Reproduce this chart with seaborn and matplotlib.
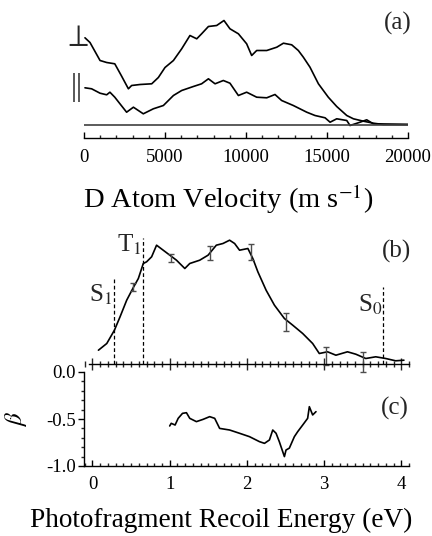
import matplotlib
matplotlib.use("Agg")
import matplotlib.pyplot as plt
import seaborn as sns
import numpy as np
from matplotlib.ticker import MultipleLocator

# (a) D atom velocity distributions, heights in arbitrary units
vel_perp = [60, 370, 990, 1400, 1900, 2300, 2740, 2940, 3460, 4180, 4590, 5000, 5520, 6030,
            6540, 6960, 7260, 7680, 8190, 8640, 9010, 9530, 10040, 10350, 10660, 11280, 11900,
            12310, 12820, 13230, 13540, 13950, 14470, 15080, 15600, 16220, 16630, 17250, 17860,
            18480, 20000]
sig_perp = [86.7, 82, 64, 62, 60.7, 49, 35.7, 39, 40, 40.7, 47, 57, 64, 75.7,
            89, 85.7, 90.7, 98, 99, 104, 95.7, 90.7, 80.7, 69, 74, 74, 77.3,
            81.3, 79.7, 74, 67.3, 57.3, 40.7, 27.3, 18, 9, 5.7, 3.3, 1.3,
            0, 0]
vel_par = [60, 470, 990, 1400, 1600, 1900, 2220, 2630, 3050, 3660, 4280, 4900, 5520, 6030,
           6750, 7260, 7680, 8090, 8600, 9010, 9530, 10040, 10660, 11280, 11790, 12200, 12920,
           13750, 14260, 14880, 15190, 15600, 16220, 16420, 17040, 17450, 17860, 20000]
sig_par = [36.7, 35.7, 31.3, 29.7, 32.3, 27.3, 20.7, 12.3, 17.3, 10.7, 15.7, 19, 29, 34,
           38, 40.7, 45.7, 40.7, 44, 41.3, 29, 32.3, 27.3, 26.7, 30, 24, 19,
           12.3, 9, 6.7, 2.3, 5.7, 4, -1, 2.3, 4.7, 0.7, 0]

# (b) recoil energy distribution
energy_b = [0.077, 0.185, 0.284, 0.357, 0.443, 0.529, 0.594, 0.658, 0.701, 0.766, 0.830, 0.916,
            1.002, 1.088, 1.196, 1.260, 1.389, 1.497, 1.604, 1.690, 1.776, 1.841, 1.905, 2.013,
            2.077, 2.142, 2.249, 2.357, 2.486, 2.594, 2.723, 2.852, 2.938, 3.045, 3.153, 3.303,
            3.411, 3.540, 3.669, 3.798, 3.927, 4.034]
signal_b = [13.3, 20, 33.3, 46.7, 63.3, 76, 85, 100, 101.7, 106.7, 118.3, 113.3,
            108.3, 103.3, 95, 100, 103.3, 108.3, 118.3, 120, 123.3, 120, 113.3, 115,
            105, 91.7, 73.3, 58.3, 45, 38.3, 30, 20, 10, 11.7, 8.3, 11.7,
            9.3, 5, 6.7, 5, 2.7, 3.3]
err_e = [0.52, 1.02, 1.52, 2.05, 2.51, 3.02, 3.50]
err_val = [77, 106, 111, 112, 42, 7.7, 1.5]
err_size = [4, 4, 7, 8, 9, 9, 10]

# state thresholds
state_names = ["S$_1$", "T$_1$", "S$_0$"]
state_e = [0.284, 0.66, 3.76]
state_top = [85, 126, 77]

# (c) anisotropy parameter
energy_c = [1.00, 1.02, 1.07, 1.11, 1.166, 1.217, 1.26, 1.346, 1.432, 1.518, 1.583, 1.647,
            1.776, 1.905, 2.034, 2.163, 2.228, 2.292, 2.335, 2.378, 2.42, 2.486, 2.507, 2.55,
            2.615, 2.658, 2.723, 2.787, 2.809, 2.852, 2.895]
beta = [-0.574, -0.546, -0.564, -0.493, -0.44, -0.433, -0.493, -0.528, -0.504, -0.475, -0.493,
        -0.6, -0.617, -0.652, -0.688, -0.741, -0.759, -0.723, -0.617, -0.652, -0.741, -0.9,
        -0.83, -0.81, -0.688, -0.635, -0.564, -0.493, -0.369, -0.457, -0.422]

sns.set_theme(style="ticks")
plt.rcParams['font.family'] = ['Liberation Serif', 'DejaVu Serif']
plt.rcParams['mathtext.fontset'] = 'stix'

W, H = 432, 536
fig = plt.figure(figsize=(W / 100, H / 100), dpi=100)
fig.patch.set_facecolor("white")

ax_a = fig.add_axes([84 / W, (H - 137.5) / H, 324 / W, 122.5 / H])
ax_b = fig.add_axes([84 / W, (H - 363.5) / H, 325 / W, 135.5 / H])
ax_c = fig.add_axes([84 / W, (H - 466) / H, 325 / W, 94 / H])

for ax in (ax_a, ax_b, ax_c):
    ax.set_facecolor("none")
    for s in ("top", "right", "left"):
        ax.spines[s].set_visible(False)
    ax.spines["bottom"].set_color("black")
    ax.spines["bottom"].set_linewidth(1.0)

# ---- (a)
sns.lineplot(x=vel_perp, y=sig_perp, ax=ax_a, color="black", lw=1.2)
sns.lineplot(x=vel_par, y=sig_par, ax=ax_a, color="black", lw=1.2)
ax_a.axhline(0, color="0.25", lw=1.2)
ax_a.set_xlim(0, 20000)
ax_a.set_ylim(-13, 109.5)
ax_a.set_yticks([])
ax_a.xaxis.set_major_locator(MultipleLocator(5000))
ax_a.xaxis.set_minor_locator(MultipleLocator(1000))
ax_a.tick_params(axis="x", which="major", direction="in", length=4, width=1.0,
                 labelsize=13.5, pad=8, colors="black")
ax_a.tick_params(axis="x", which="minor", direction="in", length=2.5, width=1.0)
ax_a.set_xlabel("D Atom Velocity (m s$^{-1}$)", fontsize=20.5, color="black")
ax_a.xaxis.set_label_coords(0.446, -0.37)
ax_a.text(19380, 101.5, "(a)", fontsize=18, ha="center", va="center")
ax_a.text(-494, 86.5, r"$\perp$", fontsize=22, ha="center", va="center")
ax_a.text(-432, 37.5, "||", fontsize=22, ha="center", va="center")

# ---- (b)
sns.lineplot(x=energy_b, y=signal_b, ax=ax_b, color="black", lw=1.2)
ax_b.errorbar(err_e, err_val, yerr=err_size, fmt="none", ecolor="0.3",
              elinewidth=1.0, capsize=2.5, clip_on=False)
ax_b.vlines(state_e, 0, state_top, colors="black", linestyles=(0, (3, 2)), lw=0.9)
ax_b.set_xlim(-0.11, 4.1)
ax_b.set_ylim(0, 135.5)
ax_b.set_yticks([])
ax_b.spines["bottom"].set_bounds(-0.04, 4.1)
ax_b.xaxis.set_major_locator(MultipleLocator(1))
ax_b.xaxis.set_minor_locator(MultipleLocator(0.1))
ax_b.tick_params(axis="x", which="major", direction="inout", length=9, width=1.0,
                 labelbottom=False)
ax_b.tick_params(axis="x", which="minor", direction="inout", length=5, width=1.0)
ax_b.text(-0.045, 68.5, state_names[0], fontsize=18, ha="left", va="center")
ax_b.text(0.32, 118.5, state_names[1], fontsize=18, ha="left", va="center")
ax_b.text(3.44, 58.5, state_names[2], fontsize=18, ha="left", va="center")
ax_b.text(3.94, 112.5, "(b)", fontsize=18, ha="center", va="center")

# ---- (c)
sns.lineplot(x=energy_c, y=beta, ax=ax_c, color="black", lw=1.2)
ax_c.spines["left"].set_visible(True)
ax_c.spines["left"].set_color("black")
ax_c.spines["left"].set_linewidth(1.0)
ax_c.set_xlim(-0.11, 4.1)
ax_c.set_ylim(-1.0, 0.0)
ax_c.xaxis.set_major_locator(MultipleLocator(1))
ax_c.xaxis.set_minor_locator(MultipleLocator(0.1))
ax_c.yaxis.set_major_locator(MultipleLocator(0.5))
ax_c.yaxis.set_minor_locator(MultipleLocator(0.1))
ax_c.yaxis.set_major_formatter(matplotlib.ticker.FormatStrFormatter("%.1f"))
ax_c.tick_params(axis="x", which="major", direction="in", length=4.5, width=1.0,
                 labelsize=13.5, pad=7, colors="black")
ax_c.tick_params(axis="x", which="minor", direction="in", length=2.5, width=1.0)
ax_c.tick_params(axis="y", which="major", direction="out", length=4, width=1.0,
                 labelsize=13.5, pad=2, colors="black")
ax_c.tick_params(axis="y", which="minor", direction="out", length=2.5, width=1.0)
ax_c.set_ylabel(r"$\beta$", fontsize=18, color="black")
ax_c.yaxis.set_label_coords(-0.17, 0.5)
ax_c.set_xlabel("Photofragment Recoil Energy (eV)", fontsize=19.6, color="black")
ax_c.xaxis.set_label_coords(0.423, -0.45)
ax_c.text(3.92, -0.383, "(c)", fontsize=18, ha="center", va="center")

fig.savefig("out.png", dpi=100, facecolor="white")
